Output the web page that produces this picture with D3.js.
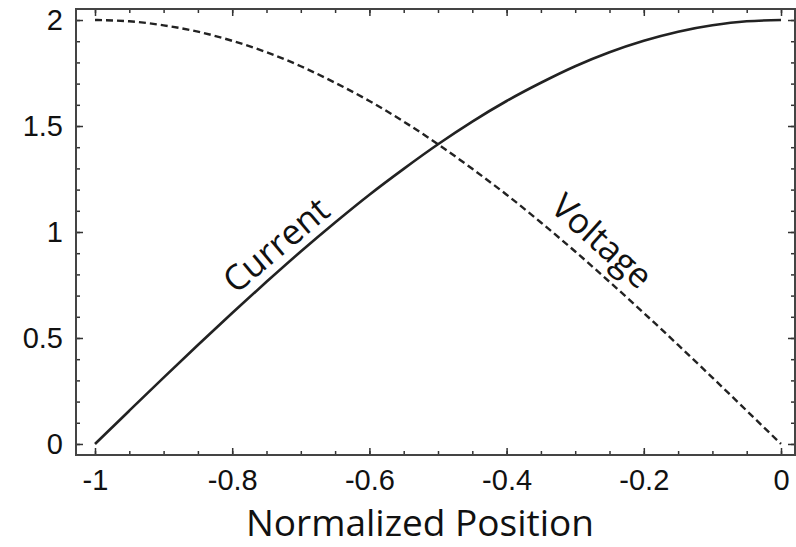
<!DOCTYPE html>
<html>
<head>
<meta charset="utf-8">
<script src="https://cdn.jsdelivr.net/npm/d3@7"></script>
<style>
  body { margin: 0; background: #fff; }
  .tick text { font-family: "Liberation Sans", Arial, sans-serif; font-size: 29px; fill: #111; }
  .lbl { font-family: "Open Sans", "Noto Sans", sans-serif; fill: #111; }
</style>
</head>
<body>
<svg id="chart" width="796" height="547"></svg>
<script>
// values
var positions = [-1, -0.95, -0.9, -0.85, -0.8, -0.75, -0.7, -0.65, -0.6, -0.55, -0.5,
                 -0.45, -0.4, -0.35, -0.3, -0.25, -0.2, -0.15, -0.1, -0.05, 0];
var current = [0, 0.157, 0.313, 0.467, 0.618, 0.765, 0.908, 1.045, 1.176, 1.298, 1.414,
               1.521, 1.618, 1.704, 1.782, 1.848, 1.902, 1.945, 1.975, 1.994, 2.0];
var voltage = [2.0, 1.994, 1.975, 1.945, 1.902, 1.848, 1.782, 1.704, 1.618, 1.521, 1.414,
               1.298, 1.176, 1.045, 0.908, 0.765, 0.618, 0.467, 0.313, 0.157, 0];
var xTicks = [-1, -0.8, -0.6, -0.4, -0.2, 0];
var yTicks = [0, 0.5, 1, 1.5, 2];

var frame = { left: 76, right: 795, top: 9, bottom: 455 };
var svg = d3.select("#chart");

var x = d3.scaleLinear().domain([-1.0277, 0.0204]).range([frame.left, frame.right]);
var y = d3.scaleLinear().domain([-0.052, 2.052]).range([frame.bottom, frame.top]);

var minorX = d3.range(-1, 0.001, 0.05);
var minorY = d3.range(0, 2.001, 0.1);

function fmt(d) { return String(+d.toFixed(2)); }

// minor ticks
svg.append("g").attr("transform", "translate(0," + frame.bottom + ")")
  .call(d3.axisBottom(x).tickValues(minorX).tickSize(-4).tickFormat(""));
svg.append("g").attr("transform", "translate(0," + frame.top + ")")
  .call(d3.axisTop(x).tickValues(minorX).tickSize(-4).tickFormat(""));
svg.append("g").attr("transform", "translate(" + frame.left + ",0)")
  .call(d3.axisLeft(y).tickValues(minorY).tickSize(-4).tickFormat(""));
svg.append("g").attr("transform", "translate(" + frame.right + ",0)")
  .call(d3.axisRight(y).tickValues(minorY).tickSize(-4).tickFormat(""));

// major ticks with labels
svg.append("g").attr("transform", "translate(0," + frame.bottom + ")")
  .call(d3.axisBottom(x).tickValues(xTicks).tickSize(-7).tickPadding(14).tickFormat(fmt));
svg.append("g").attr("transform", "translate(0," + frame.top + ")")
  .call(d3.axisTop(x).tickValues(xTicks).tickSize(-7).tickFormat(""));
svg.append("g").attr("transform", "translate(" + frame.left + ",0)")
  .call(d3.axisLeft(y).tickValues(yTicks).tickSize(-7).tickPadding(13).tickFormat(fmt));
svg.append("g").attr("transform", "translate(" + frame.right + ",0)")
  .call(d3.axisRight(y).tickValues(yTicks).tickSize(-7).tickFormat(""));

svg.selectAll(".domain").remove();
svg.selectAll(".tick line").attr("stroke", "#333").attr("stroke-width", 1.5);

svg.append("rect")
  .attr("x", frame.left).attr("y", frame.top)
  .attr("width", frame.right - frame.left).attr("height", frame.bottom - frame.top)
  .attr("fill", "none").attr("stroke", "#444").attr("stroke-width", 2);

var line = d3.line().curve(d3.curveMonotoneX);

svg.append("path")
  .datum(positions.map(function (p, i) { return [x(p), y(current[i])]; }))
  .attr("d", line).attr("fill", "none")
  .attr("stroke", "#222").attr("stroke-width", 2.6);

svg.append("path")
  .datum(positions.map(function (p, i) { return [x(p), y(voltage[i])]; }))
  .attr("d", line).attr("fill", "none")
  .attr("stroke", "#222").attr("stroke-width", 2.4)
  .attr("stroke-dasharray", "7,4");

svg.append("text").attr("class", "lbl")
  .attr("transform", "translate(276,245) rotate(-40)")
  .attr("text-anchor", "middle").attr("dy", "0.35em").attr("font-size", 35).text("Current");
svg.append("text").attr("class", "lbl")
  .attr("transform", "translate(602,241) rotate(42)")
  .attr("text-anchor", "middle").attr("dy", "0.35em").attr("font-size", 35).text("Voltage");

svg.append("text").attr("class", "lbl")
  .attr("x", 420).attr("y", 536)
  .attr("text-anchor", "middle").attr("font-size", 37).text("Normalized Position");
</script>
</body>
</html>
